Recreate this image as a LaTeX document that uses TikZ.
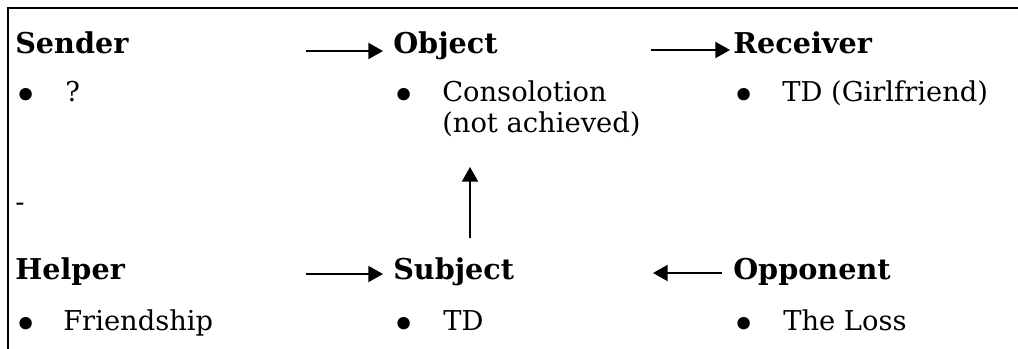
\documentclass[tikz,border=0pt]{standalone}
\usepackage{fontspec}
\setmainfont{DejaVu Serif}
\usetikzlibrary{arrows.meta,calc}

\tikzset{
  head/.style={anchor=base west,inner sep=0pt,font=\bfseries\fontsize{21.5}{24}\selectfont},
  item/.style={anchor=base west,inner sep=0pt,align=left,font=\fontsize{20.5}{23.25}\selectfont},
  dot/.style={anchor=base west,inner sep=0pt,font=\fontsize{32}{32}\selectfont},
  arr/.style={line width=1.5pt,-{Triangle[length=11pt,width=12pt]}}
}

\begin{document}
\begin{tikzpicture}[x=0.75pt,y=0.75pt,yscale=-1,xscale=1]
\useasboundingbox (0,0) rectangle (1018,349);
% frame
\draw[line width=1.5pt] (1018,8) -- (8,8) -- (8,349);
% top row
\node[head] (sender) at (15,54) {Sender};
\node[dot] (senderdot) at (13,111) {•};
\node[item] (senderval) at (65,102) {?};
\node[head] (object) at (393,54) {Object};
\node[dot] (objectdot) at (391,111) {•};
\node[item] (objectval) at (442,133) {Consolotion\\(not achieved)};
\node[head] (receiver) at (733,54) {Receiver};
\node[dot] (receiverdot) at (731,111) {•};
\node[item] (receiverval) at (782,102) {TD (Girlfriend)};
\node[item] (dash) at (15,212) {-};
% bottom row
\node[head] (helper) at (15,279) {Helper};
\node[dot] (helperdot) at (13,339) {•};
\node[item] (helperval) at (63,330) {Friendship};
\node[head] (subject) at (393,279) {Subject};
\node[dot] (subjectdot) at (391,339) {•};
\node[item] (subjectval) at (443,330) {TD};
\node[head] (opponent) at (733,279) {Opponent};
\node[dot] (opponentdot) at (731,339) {•};
\node[item] (opponentval) at (783,330) {The Loss};
% arrows
\draw[arr] ($(object.base west)+(-87,-3)$) -- ($(object.base west)+(-10,-3)$);
\draw[arr] ($(receiver.base west)+(-82,-4)$) -- ($(receiver.base west)+(-3,-4)$);
\draw[arr] ($(subject.base west)+(77,-41)$) -- ($(object.base west)+(77,113)$);
\draw[arr] ($(subject.base west)+(-87,-5)$) -- ($(subject.base west)+(-10,-5)$);
\draw[arr] ($(opponent.base west)+(-11,-6)$) -- ($(subject.base west)+(260,-6)$);
\end{tikzpicture}
\end{document}
